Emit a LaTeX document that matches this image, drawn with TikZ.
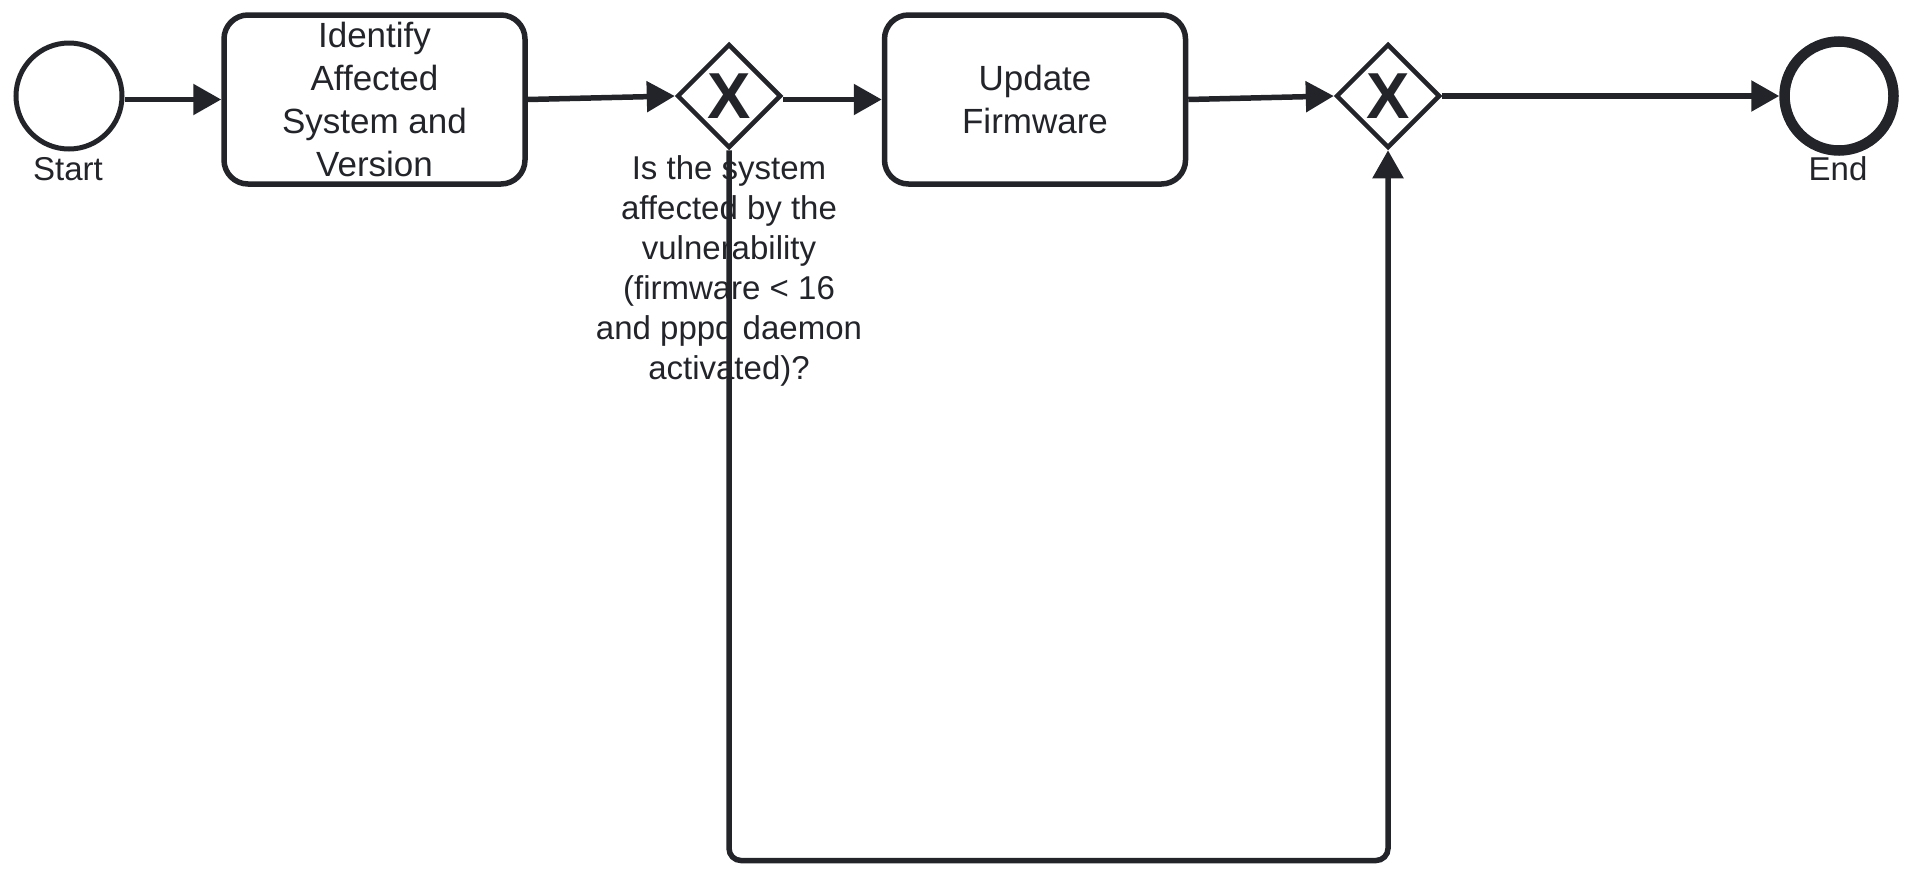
\documentclass[tikz,border=0pt]{standalone}
\usepackage{fontspec}
\setmainfont{Liberation Sans}
\usetikzlibrary{shapes.geometric,arrows.meta}
\definecolor{ink}{HTML}{22242A}
\begin{document}
\begin{tikzpicture}[x=1pt,y=-1pt,
  every node/.style={text=ink},
  startevent/.style={circle,draw=ink,line width=5pt,minimum size=106pt,inner sep=0pt},
  endevent/.style={circle,draw=ink,line width=10.5pt,minimum size=109pt,inner sep=0pt},
  task/.style={rectangle,rounded corners=24pt,draw=ink,line width=5.5pt,
    minimum width=301pt,minimum height=169pt,align=center,
    font=\fontsize{35}{43}\selectfont},
  gateway/.style={diamond,draw=ink,line width=4.5pt,minimum size=104pt,inner sep=0pt,
    font=\fontsize{65}{65}\selectfont\bfseries},
  evlabel/.style={font=\fontsize{33}{40}\selectfont,align=center,inner sep=0pt},
  flow/.style={draw=ink,line width=5.5pt,-{Triangle[length=28pt,width=30pt]}}
]
\useasboundingbox (0,0) rectangle (1911,876);

% flow objects
\node[startevent] (start) at (69,96) {};
\node[task] (identify) at (374.5,99.5) {Identify\\Affected\\System and\\Version};
\node[gateway] (check) at (729,96) {X};
\node[task] (update) at (1035,99.5) {Update\\Firmware};
\node[gateway] (merge) at (1388,96) {X};
\node[endevent] (finish) at (1839,96) {};

% labels
\node[evlabel] (startlbl) at (68,169) {Start};
\node[evlabel] (finishlbl) at (1838,169) {End};
\node[evlabel] (checklbl) at (729,271) {Is the system\\affected by the\\vulnerability\\(firmware < 16\\and pppd daemon\\activated)?};

% sequence flows
\draw[flow] (start.east |- identify.west) -- (identify.west);
\draw[flow] (identify.east) -- (check.west);
\draw[flow] (check.east |- update.west) -- (update.west);
\draw[flow] (update.east) -- (merge.west);
\draw[flow] (merge.east) -- (finish.west);

% bypass when the system is not affected
\coordinate (loopy) at (0,860.5);
\draw[flow,rounded corners=12pt] (check.south) -- (check.south |- loopy) -- (merge.south |- loopy) -- (merge.south);
\end{tikzpicture}
\end{document}
